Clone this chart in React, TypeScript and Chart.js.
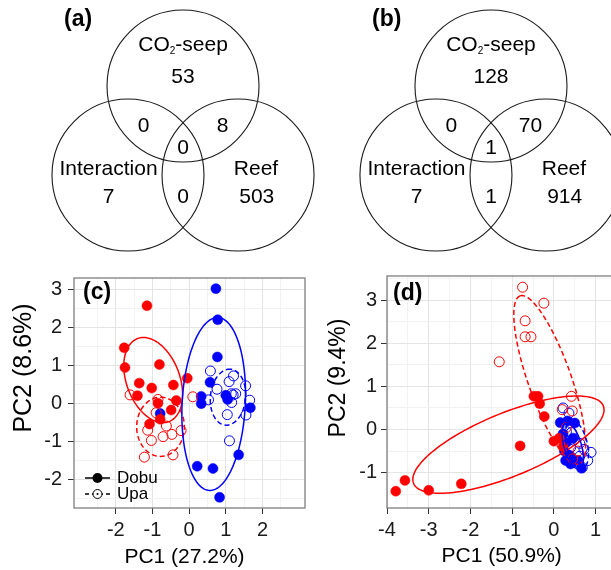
import React, { useEffect, useRef } from 'react';
import { Chart, registerables } from 'chart.js';
Chart.register(...registerables);

const FONT = "'Liberation Sans', Arial, Helvetica, sans-serif";
const RED = '#ff0000';
const BLUE = '#0000ff';
const GRID_MAJOR = '#e4e4e4';
const GRID_MINOR = '#f2f2f2';
const BORDER = '#7f7f7f';

// ---------------- Venn diagrams (a) and (b) ----------------
const vennSets = ['CO₂-seep', 'Interaction', 'Reef'];
const vennCircleX = [0, -0.724, 0.724];
const vennCircleY = [0, -1.171, -1.171];
const vennCircleR = [1, 1, 1];
// regions: CO2 only, Interaction only, Reef only, CO2∩Int, CO2∩Reef, Int∩Reef, all three
const vennCountsA = [53, 7, 503, 0, 8, 0, 0];
const vennCountsB = [128, 7, 914, 0, 70, 1, 1];
// label anchors (in circle-radius units)
const vennCountX = [0, -0.98, 0.97, -0.52, 0.52, 0, 0];
const vennCountY = [0.12, -1.46, -1.46, -0.53, -0.53, -1.46, -0.82];
const vennNameX = [0, -0.98, 0.96];
const vennNameY = [0.54, -1.09, -1.09];

// ---------------- PCA (c) ----------------
const cRedDobuX = [-1.15, -1.77, -1.75, -0.81, -1.36, -1.02, -0.43, -0.05, -1.41, -0.35, -0.85, -0.49, -0.79, -1.08];
const cRedDobuY = [2.57, 1.46, 0.94, 1.02, 0.53, 0.40, 0.48, 0.66, 0.20, 0.07, 0.00, -0.18, -0.42, -0.55];
const cRedUpaX = [-1.61, 0.10, -0.85, -0.90, -0.62, -1.13, -0.47, -0.71, -0.22, -1.03, -1.22, -0.44];
const cRedUpaY = [0.22, 0.17, 0.10, -0.25, -0.60, -0.71, -0.82, -0.88, -0.72, -0.98, -1.42, -1.36];
const cBlueDobuX = [0.73, 0.78, 0.77, 0.57, 0.33, 0.33, 1.00, 1.05, 1.67, 1.35, 0.22, 0.65, 0.83, -0.79];
const cBlueDobuY = [3.02, 2.20, 1.22, 0.55, 0.18, -0.01, 0.21, 0.10, -0.12, -1.36, -1.66, -1.72, -2.48, -0.27];
const cBlueUpaX = [0.58, 0.76, 0.53, 1.09, 1.21, 1.15, 1.27, 1.16, 1.04, 1.10, 1.54, 1.65, 1.55, 1.20];
const cBlueUpaY = [0.85, 0.37, 0.09, 0.57, 0.72, 0.25, 0.25, 0.02, -0.30, -0.99, 0.46, 0.08, -0.31, 0.22];
// ellipses: red Dobu, red Upa, blue Dobu, blue Upa
const cEllCX = [-0.98, -0.78, 0.67, 1.06];
const cEllCY = [0.61, -0.62, -0.02, 0.16];
const cEllUX = [-0.44, 0.0, 0.12, 0.077];
const cEllUY = [1.09, 0.78, 2.277, 0.736];
const cEllVX = [-0.67, 0.65, -0.86, -0.477];
const cEllVY = [-0.27, 0.0, 0.045, 0.05];
const cXTicks = [-2.5, -2, -1.5, -1, -0.5, 0, 0.5, 1, 1.5, 2, 2.5];
const cYTicks = [-2.5, -2, -1.5, -1, -0.5, 0, 0.5, 1, 1.5, 2, 2.5, 3];

// ---------------- PCA (d) ----------------
const dRedDobuX = [-3.79, -3.57, -3.0, -2.22, -0.81, -0.48, -0.38, -0.34, -0.23, 0.0, 0.13, 0.22];
const dRedDobuY = [-1.43, -1.18, -1.41, -1.26, -0.38, 0.77, 0.77, 0.6, 0.3, -0.27, -0.2, -0.4];
const dRedUpaX = [-0.75, -0.24, -0.69, -0.69, -0.55, -1.31, 0.42, 0.2, 0.44, 0.3, 0.58, 0.45];
const dRedUpaY = [3.3, 2.93, 2.52, 2.15, 2.15, 1.57, 0.77, 0.46, 0.43, 0.05, -0.5, -0.68];
const dBlueDobuX = [0.15, 0.33, 0.5, 0.22, 0.3, 0.25, 0.38, 0.46, 0.58, 0.66, 0.28, 0.4];
const dBlueDobuY = [0.16, 0.2, 0.15, -0.1, -0.3, -0.5, -0.6, -0.2, -0.72, -0.9, -0.72, -0.8];
const dBlueUpaX = [0.22, 0.36, 0.3, 0.42, 0.48, 0.62, 0.72, 0.89, 0.81, 0.68, 0.55, 0.4, 0.62, 0.35];
const dBlueUpaY = [0.5, 0.38, -0.05, -0.07, -0.25, -0.32, -0.46, -0.53, -0.72, -0.88, -0.75, -0.42, -0.62, -0.6];
const dEllCX = [-1.09, -0.1, 0.45, 0.55];
const dEllCY = [-0.35, 1.15, -0.38, -0.35];
const dEllUX = [2.274, -0.71, -0.16, -0.14];
const dEllUY = [0.897, 1.95, 0.53, 0.55];
const dEllVX = [-0.279, 0.487, 0.2, 0.24];
const dEllVY = [0.683, 0.168, 0.06, 0.07];
const dXTicks = [-4, -3.5, -3, -2.5, -2, -1.5, -1, -0.5, 0, 0.5, 1, 1.5, 2];
const dYTicks = [-1.5, -1, -0.5, 0, 0.5, 1, 1.5, 2, 2.5, 3, 3.5];

const ellColors = [RED, RED, BLUE, BLUE];
const ellDashed = [false, true, false, true];

const zip = (xs: number[], ys: number[]) => xs.map((x, i) => ({ x, y: ys[i] }));
const isMajor = (v: number) => Math.abs(v - Math.round(v)) < 1e-9;

// ---------- Venn plugin ----------
function drawSetName(ctx: CanvasRenderingContext2D, name: string, cx: number, cy: number) {
  const big = `21px ${FONT}`;
  const small = `10px ${FONT}`;
  ctx.textBaseline = 'middle';
  if (name.includes('₂')) {
    const [pre, post] = name.split('₂');
    ctx.font = big;
    const w1 = ctx.measureText(pre).width;
    const w3 = ctx.measureText(post).width;
    ctx.font = small;
    const w2 = ctx.measureText('2').width;
    const x0 = cx - (w1 + w2 + w3) / 2;
    ctx.textAlign = 'left';
    ctx.font = big;
    ctx.fillText(pre, x0, cy);
    ctx.font = small;
    ctx.fillText('2', x0 + w1, cy + 6);
    ctx.font = big;
    ctx.fillText(post, x0 + w1 + w2, cy);
  } else {
    ctx.textAlign = 'center';
    ctx.font = big;
    ctx.fillText(name, cx, cy);
  }
}

function vennPlugin(counts: number[], tag: string) {
  return {
    id: 'venn',
    afterDraw(chart: any) {
      const { ctx } = chart;
      const xs = chart.scales.x;
      const ys = chart.scales.y;
      const px = (v: number) => xs.getPixelForValue(v);
      const py = (v: number) => ys.getPixelForValue(v);
      const unit = px(1) - px(0);
      ctx.save();
      ctx.strokeStyle = '#1a1a1a';
      ctx.lineWidth = 1.1;
      vennCircleX.forEach((cx, i) => {
        ctx.beginPath();
        ctx.arc(px(cx), py(vennCircleY[i]), vennCircleR[i] * unit, 0, Math.PI * 2);
        ctx.stroke();
      });
      ctx.fillStyle = '#000';
      vennSets.forEach((name, i) => drawSetName(ctx, name, px(vennNameX[i]), py(vennNameY[i])));
      ctx.font = `21px ${FONT}`;
      ctx.textAlign = 'center';
      ctx.textBaseline = 'middle';
      counts.forEach((c, i) => ctx.fillText(String(c), px(vennCountX[i]), py(vennCountY[i])));
      ctx.font = `bold 23px ${FONT}`;
      ctx.textAlign = 'left';
      ctx.fillText(tag, px(-1.565), py(0.875));
      ctx.restore();
    },
  };
}

function vennConfig(counts: number[], tag: string, xMin: number, xMax: number): any {
  return {
    type: 'scatter',
    data: { datasets: [{ data: zip(vennCircleX, vennCircleY), pointRadius: 0 }] },
    options: {
      responsive: false,
      animation: false,
      devicePixelRatio: 1,
      layout: { padding: 0 },
      plugins: { legend: { display: false }, tooltip: { enabled: false } },
      scales: {
        x: { type: 'linear', display: false, min: xMin, max: xMax },
        y: { type: 'linear', display: false, min: -2.289, max: 1.132 },
      },
    },
    plugins: [vennPlugin(counts, tag)],
  };
}

// ---------- PCA ----------
interface PcaSpec {
  redDobu: { x: number; y: number }[];
  redUpa: { x: number; y: number }[];
  blueDobu: { x: number; y: number }[];
  blueUpa: { x: number; y: number }[];
  ell: { cx: number[]; cy: number[]; ux: number[]; uy: number[]; vx: number[]; vy: number[] };
  xMin: number; xMax: number; yMin: number; yMax: number;
  xTicks: number[]; yTicks: number[];
  padTop: number; padRight: number; yAxisWidth: number; yTickPad: number;
  xTitle: string; yTitle: string; xTitlePos: [number, number]; yTitlePos: [number, number]; yTitleSize: number;
  tag: string; tagPos: [number, number];
  legend: boolean;
}

function pcaPlugin(spec: PcaSpec) {
  return {
    id: 'pcaExtras',
    afterDatasetsDraw(chart: any) {
      const { ctx, chartArea } = chart;
      const xs = chart.scales.x;
      const ys = chart.scales.y;
      ctx.save();
      ctx.beginPath();
      ctx.rect(chartArea.left, chartArea.top, chartArea.right - chartArea.left, chartArea.bottom - chartArea.top);
      ctx.clip();
      const e = spec.ell;
      e.cx.forEach((cx, i) => {
        ctx.beginPath();
        const N = 180;
        for (let k = 0; k <= N; k++) {
          const t = (k / N) * Math.PI * 2;
          const dx = cx + e.ux[i] * Math.cos(t) + e.vx[i] * Math.sin(t);
          const dy = e.cy[i] + e.uy[i] * Math.cos(t) + e.vy[i] * Math.sin(t);
          const X = xs.getPixelForValue(dx);
          const Y = ys.getPixelForValue(dy);
          if (k === 0) ctx.moveTo(X, Y); else ctx.lineTo(X, Y);
        }
        ctx.closePath();
        ctx.setLineDash(ellDashed[i] ? [5, 3] : []);
        ctx.strokeStyle = ellColors[i];
        ctx.lineWidth = 1.5;
        ctx.stroke();
      });
      ctx.restore();
    },
    afterDraw(chart: any) {
      const { ctx, chartArea } = chart;
      ctx.save();
      ctx.strokeStyle = BORDER;
      ctx.lineWidth = 1.3;
      ctx.setLineDash([]);
      ctx.strokeRect(chartArea.left, chartArea.top, chartArea.right - chartArea.left, chartArea.bottom - chartArea.top);
      ctx.fillStyle = '#000';
      // titles
      ctx.font = `21px ${FONT}`;
      ctx.textAlign = 'center';
      ctx.textBaseline = 'middle';
      ctx.fillText(spec.xTitle, spec.xTitlePos[0], spec.xTitlePos[1]);
      ctx.save();
      ctx.translate(spec.yTitlePos[0], spec.yTitlePos[1]);
      ctx.rotate(-Math.PI / 2);
      ctx.font = `${spec.yTitleSize}px ${FONT}`;
      ctx.fillText(spec.yTitle, 0, 0);
      ctx.restore();
      // tag
      ctx.font = `bold 23px ${FONT}`;
      ctx.textAlign = 'left';
      ctx.fillText(spec.tag, spec.tagPos[0], spec.tagPos[1]);
      if (spec.legend) {
        const x0 = chartArea.left + 11;
        const x1 = chartArea.left + 36;
        const xm = (x0 + x1) / 2;
        const y1 = chartArea.bottom - 30;
        const y2 = chartArea.bottom - 14;
        ctx.strokeStyle = '#000';
        ctx.lineWidth = 1.5;
        ctx.beginPath(); ctx.moveTo(x0, y1); ctx.lineTo(x1, y1); ctx.stroke();
        ctx.beginPath(); ctx.arc(xm, y1, 5, 0, Math.PI * 2); ctx.fillStyle = '#000'; ctx.fill();
        ctx.setLineDash([4, 3]);
        ctx.beginPath(); ctx.moveTo(x0, y2); ctx.lineTo(x1, y2); ctx.stroke();
        ctx.setLineDash([]);
        ctx.lineWidth = 1;
        ctx.beginPath(); ctx.arc(xm, y2, 4.5, 0, Math.PI * 2); ctx.fillStyle = '#fff'; ctx.fill();
        ctx.stroke();
        ctx.beginPath(); ctx.arc(xm, y2, 1, 0, Math.PI * 2); ctx.fillStyle = '#000'; ctx.fill();
        ctx.fillStyle = '#000';
        ctx.font = `17px ${FONT}`;
        ctx.textAlign = 'left';
        ctx.textBaseline = 'middle';
        ctx.fillText('Dobu', chartArea.left + 43, y1);
        ctx.fillText('Upa', chartArea.left + 43, y2);
      }
      ctx.restore();
    },
  };
}

function pcaConfig(spec: PcaSpec): any {
  const axisCommon = (ticksArr: number[], pad: number) => ({
    type: 'linear',
    afterBuildTicks: (s: any) => { s.ticks = ticksArr.map((v) => ({ value: v })); },
    border: { display: false },
    grid: {
      color: (c: any) => (c.tick && isMajor(c.tick.value) ? GRID_MAJOR : GRID_MINOR),
      lineWidth: 1,
      drawTicks: true,
      tickLength: 6,
      tickWidth: 1,
      tickColor: (c: any) => (c.tick && isMajor(c.tick.value) ? '#333' : 'rgba(0,0,0,0)'),
    },
    ticks: {
      autoSkip: false,
      maxRotation: 0,
      minRotation: 0,
      padding: pad,
      color: '#1a1a1a',
      font: { family: FONT, size: 20 },
      callback: (v: number) => (isMajor(v) ? String(Math.round(v)) : ''),
    },
  });
  return {
    type: 'scatter',
    data: {
      datasets: [
        { data: spec.redDobu, pointRadius: 5, pointBackgroundColor: RED, pointBorderColor: RED, pointBorderWidth: 0.5 },
        { data: spec.redUpa, pointRadius: 5, pointBackgroundColor: 'rgba(0,0,0,0)', pointBorderColor: RED, pointBorderWidth: 1 },
        { data: spec.blueDobu, pointRadius: 5, pointBackgroundColor: BLUE, pointBorderColor: BLUE, pointBorderWidth: 0.5 },
        { data: spec.blueUpa, pointRadius: 5, pointBackgroundColor: 'rgba(0,0,0,0)', pointBorderColor: BLUE, pointBorderWidth: 1 },
      ],
    },
    options: {
      responsive: false,
      animation: false,
      devicePixelRatio: 1,
      layout: { padding: { top: spec.padTop, right: spec.padRight, left: 0, bottom: 0 } },
      plugins: { legend: { display: false }, tooltip: { enabled: false } },
      scales: {
        x: { ...axisCommon(spec.xTicks, 4), min: spec.xMin, max: spec.xMax, afterFit: (s: any) => { s.height = 62; } },
        y: { ...axisCommon(spec.yTicks, spec.yTickPad), min: spec.yMin, max: spec.yMax, afterFit: (s: any) => { s.width = spec.yAxisWidth; } },
      },
    },
    plugins: [pcaPlugin(spec)],
  };
}

const specC: PcaSpec = {
  redDobu: zip(cRedDobuX, cRedDobuY),
  redUpa: zip(cRedUpaX, cRedUpaY),
  blueDobu: zip(cBlueDobuX, cBlueDobuY),
  blueUpa: zip(cBlueUpaX, cBlueUpaY),
  ell: { cx: cEllCX, cy: cEllCY, ux: cEllUX, uy: cEllUY, vx: cEllVX, vy: cEllVY },
  xMin: -3.14, xMax: 3.16, yMin: -2.76, yMax: 3.3,
  xTicks: cXTicks, yTicks: cYTicks,
  padTop: 15, padRight: 6, yAxisWidth: 74, yTickPad: 6,
  xTitle: 'PC1 (27.2%)', yTitle: 'PC2 (8.6%)', xTitlePos: [184.5, 297], yTitlePos: [24, 108], yTitleSize: 25,
  tag: '(c)', tagPos: [83, 33],
  legend: true,
};

const specD: PcaSpec = {
  redDobu: zip(dRedDobuX, dRedDobuY),
  redUpa: zip(dRedUpaX, dRedUpaY),
  blueDobu: zip(dBlueDobuX, dBlueDobuY),
  blueUpa: zip(dBlueUpaX, dBlueUpaY),
  ell: { cx: dEllCX, cy: dEllCY, ux: dEllUX, uy: dEllUY, vx: dEllVX, vy: dEllVY },
  xMin: -4, xMax: 2.183, yMin: -1.82, yMax: 3.56,
  xTicks: dXTicks, yTicks: dYTicks,
  padTop: 14, padRight: 0, yAxisWidth: 76, yTickPad: 4,
  xTitle: 'PC1 (50.9%)', yTitle: 'PC2 (9.4%)', xTitlePos: [190.7, 296], yTitlePos: [28, 118], yTitleSize: 23,
  tag: '(d)', tagPos: [82, 34],
  legend: false,
};

function ChartCanvas(props: { left: number; top: number; width: number; height: number; make: () => any }) {
  const ref = useRef<HTMLCanvasElement>(null);
  useEffect(() => {
    const chart = new Chart(ref.current as HTMLCanvasElement, props.make());
    return () => chart.destroy();
  }, []);
  return (
    <canvas
      ref={ref}
      width={props.width}
      height={props.height}
      style={{ position: 'absolute', left: props.left, top: props.top, width: props.width, height: props.height }}
    />
  );
}

export default function App() {
  return (
    <div style={{ position: 'absolute', left: 0, top: 0, width: 611, height: 570, overflow: 'hidden', background: '#fff' }}>
      <ChartCanvas left={0} top={0} width={330} height={260} make={() => vennConfig(vennCountsA, '(a)', -2.408, 1.934)} />
      <ChartCanvas left={305} top={0} width={306} height={260} make={() => vennConfig(vennCountsB, '(b)', -2.447, 1.579)} />
      <ChartCanvas left={0} top={260} width={311} height={310} make={() => pcaConfig(specC)} />
      <ChartCanvas left={311} top={260} width={340} height={310} make={() => pcaConfig(specD)} />
    </div>
  );
}
